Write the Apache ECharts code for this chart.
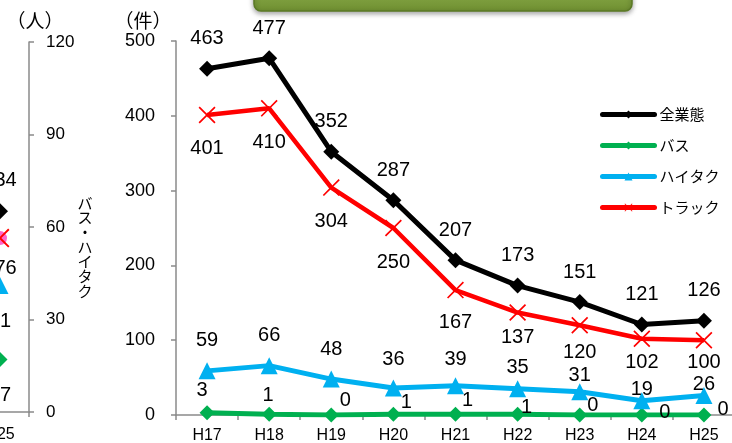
<!DOCTYPE html>
<html>
<head>
<meta charset="utf-8">
<style>
  html, body { margin: 0; padding: 0; background: #fff; }
  #chart { width: 732px; height: 443px; }
</style>
<script src="https://cdn.jsdelivr.net/npm/echarts@6/dist/echarts.min.js"></script>
</head>
<body>
<div id="chart"></div>
<script>
// Yearly counts (件) by business type
const categories = ['H17', 'H18', 'H19', 'H20', 'H21', 'H22', 'H23', 'H24', 'H25'];
const allTypes = [463, 477, 352, 287, 207, 173, 151, 121, 126];
const truck    = [401, 410, 304, 250, 167, 137, 120, 102, 100];
const hiTaxi   = [59, 66, 48, 36, 39, 35, 31, 19, 26];
const bus      = [3, 1, 0, 1, 1, 1, 0, 0, 0];

// Neighbouring panel (人): only its last year is in view
const leftCategories = ['H25'];
const leftAllTypes = [434];
const leftTruck    = [376];
const leftHiTaxi   = [41];
const leftBus      = [17];

// Label placement (pixel offsets from each marker)
const allDy    = -30;
const truckDy  = [33, 34, 34, 34, 32, 25, 27, 24, 22];
const hiTaxiDy = [-30, -30, -30, -29, -26, -21, -16, -11, -11];
const busOff   = [[-5, -22], [-1, -19], [14, -15], [13, -12], [12, -14], [9, -7], [13, -10], [23, -3], [19, -6]];

const FONT = "'Liberation Sans', Arial, sans-serif";
const JP = "'Noto Sans CJK JP', sans-serif";
const AXIS = '#8a8a8a';
const xMark = 'path://M0,7 L7,0 L50,43 L93,0 L100,7 L57,50 L100,93 L93,100 L50,57 L7,100 L0,93 L43,50 Z';

const valueLabel = { show: true, position: 'inside', color: '#000', fontSize: 20, fontFamily: FONT };

function items(values, offsetOf) {
  return values.map((v, i) => ({ value: v, label: { offset: offsetOf(i) } }));
}

const chart = echarts.init(document.getElementById('chart'), null, { renderer: 'canvas' });

chart.setOption({
  animation: false,
  backgroundColor: '#fff',
  textStyle: { fontFamily: FONT },
  grid: [
    { left: 176, top: 41, width: 559, height: 374, containLabel: false, outerBoundsMode: 'none' },
    { left: -29, top: 42, width: 58, height: 370, containLabel: false, outerBoundsMode: 'none' }
  ],
  legend: {
    orient: 'vertical',
    left: 595,
    top: 102,
    itemWidth: 52,
    itemHeight: 10,
    itemGap: 16,
    lineStyle: { width: 5, cap: 'round' },
    textStyle: { fontSize: 15, fontFamily: JP, color: '#000' },
    data: ['全業態', 'バス', 'ハイタク', 'トラック']
  },
  xAxis: [
    {
      gridIndex: 0, type: 'category', data: categories, boundaryGap: true,
      axisLine: { lineStyle: { color: AXIS, width: 1.5 } },
      axisTick: { show: true, length: 5, lineStyle: { color: AXIS, width: 1.5 } },
      axisLabel: { interval: 0, color: '#000', fontSize: 16, margin: 13, fontFamily: FONT }
    },
    {
      gridIndex: 1, type: 'category', data: leftCategories, boundaryGap: true,
      axisLine: { lineStyle: { color: AXIS, width: 1.5 } },
      axisTick: { show: true, length: 5, lineStyle: { color: AXIS, width: 1.5 } },
      axisLabel: { interval: 0, color: '#000', fontSize: 16, margin: 15, fontFamily: FONT }
    }
  ],
  yAxis: [
    {
      gridIndex: 0, type: 'value', min: 0, max: 500, interval: 100, position: 'left',
      axisLine: { show: true, lineStyle: { color: AXIS, width: 1.5 } },
      axisTick: { show: true, length: 5, lineStyle: { color: AXIS, width: 1.5 } },
      axisLabel: { color: '#000', fontSize: 18, margin: 21, fontFamily: FONT },
      splitLine: { show: false }
    },
    {
      gridIndex: 1, type: 'value', min: 0, max: 120, interval: 30, position: 'right',
      axisLine: { show: true, lineStyle: { color: AXIS, width: 1.5 } },
      axisTick: { show: true, length: 5, lineStyle: { color: AXIS, width: 1.5 } },
      axisLabel: { color: '#000', fontSize: 17, margin: 17, fontFamily: FONT },
      splitLine: { show: false }
    },
    {
      gridIndex: 1, type: 'value', min: 0, max: 800, position: 'left', show: false,
      splitLine: { show: false }
    }
  ],
  series: [
    {
      name: 'バス', type: 'line', xAxisIndex: 0, yAxisIndex: 0,
      data: items(bus, i => busOff[i]),
      symbol: 'diamond', symbolSize: 15,
      lineStyle: { color: '#00B050', width: 5 }, itemStyle: { color: '#00B050' },
      label: valueLabel, z: 2
    },
    {
      name: 'ハイタク', type: 'line', xAxisIndex: 0, yAxisIndex: 0,
      data: items(hiTaxi, i => [0, hiTaxiDy[i]]),
      symbol: 'triangle', symbolSize: 17,
      lineStyle: { color: '#00B0F0', width: 5 }, itemStyle: { color: '#00B0F0' },
      label: valueLabel, z: 3
    },
    {
      name: 'トラック', type: 'line', xAxisIndex: 0, yAxisIndex: 0,
      data: items(truck, i => [0, truckDy[i]]),
      symbol: xMark, symbolSize: 17,
      lineStyle: { color: '#FF0000', width: 4.5 }, itemStyle: { color: '#FF0000' },
      label: valueLabel, z: 4
    },
    {
      name: '全業態', type: 'line', xAxisIndex: 0, yAxisIndex: 0,
      data: items(allTypes, () => [0, allDy]),
      symbol: 'diamond', symbolSize: 16,
      lineStyle: { color: '#000', width: 5 }, itemStyle: { color: '#000' },
      label: valueLabel, z: 5
    },
    // neighbouring panel
    {
      name: '全業態（人）', type: 'line', xAxisIndex: 1, yAxisIndex: 2,
      data: items(leftAllTypes, () => [0, -31]),
      symbol: 'diamond', symbolSize: 16,
      lineStyle: { color: '#000', width: 5 }, itemStyle: { color: '#000' },
      label: valueLabel
    },
    {
      name: 'トラック（人）', type: 'line', xAxisIndex: 1, yAxisIndex: 2,
      data: items(leftTruck, () => [0, 30]),
      symbol: 'circle', symbolSize: 14,
      lineStyle: { color: '#FF66CC', width: 5 }, itemStyle: { color: '#FF66CC' },
      label: valueLabel
    },
    {
      name: 'トラック（人）×', type: 'line', xAxisIndex: 1, yAxisIndex: 2,
      data: leftTruck,
      symbol: xMark, symbolSize: 19,
      lineStyle: { opacity: 0 }, itemStyle: { color: '#FF0000' },
      label: { show: false }
    },
    {
      name: 'ハイタク（人）', type: 'line', xAxisIndex: 1, yAxisIndex: 1,
      data: items(leftHiTaxi, () => [0, 36]),
      symbol: 'triangle', symbolSize: 17,
      lineStyle: { color: '#00B0F0', width: 5 }, itemStyle: { color: '#00B0F0' },
      label: valueLabel
    },
    {
      name: 'バス（人）', type: 'line', xAxisIndex: 1, yAxisIndex: 1,
      data: items(leftBus, () => [0, 36]),
      symbol: 'diamond', symbolSize: 15,
      lineStyle: { color: '#00B050', width: 5 }, itemStyle: { color: '#00B050' },
      label: valueLabel
    }
  ],
  graphic: [
    {
      type: 'rect',
      shape: { x: 254, y: -20, width: 378, height: 31, r: 7 },
      style: {
        fill: new echarts.graphic.LinearGradient(0, 0, 0, 1, [
          { offset: 0, color: '#93B552' },
          { offset: 1, color: '#6F8F31' }
        ]),
        stroke: '#5B7A25', lineWidth: 1.5,
        shadowBlur: 5, shadowOffsetY: 2, shadowColor: 'rgba(0,0,0,0.35)'
      },
      z: 10
    },
    {
      type: 'text', x: 143, y: 21,
      style: { text: '（件）', fill: '#000', fontSize: 19, fontFamily: JP, align: 'center', verticalAlign: 'middle' }
    },
    {
      type: 'text', x: 35, y: 21,
      style: { text: '（人）', fill: '#000', fontSize: 19, fontFamily: JP, align: 'center', verticalAlign: 'middle' }
    },
    {
      type: 'text', x: 85, y: 247,
      style: {
        text: 'バス・ハイタク'.split('').join('\n'),
        fill: '#000', fontSize: 15, lineHeight: 14.7, fontFamily: JP,
        align: 'center', verticalAlign: 'middle'
      }
    }
  ]
});
</script>
</body>
</html>
